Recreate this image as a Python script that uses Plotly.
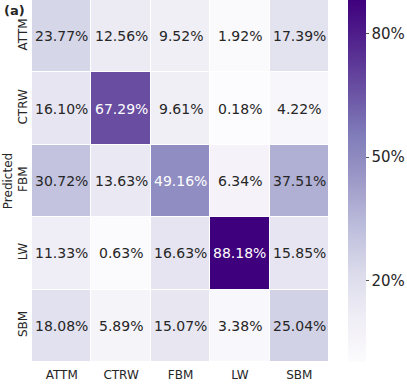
import plotly.graph_objects as go

CLASSES = ["ATTM", "CTRW", "FBM", "LW", "SBM"]
# rows = predicted class, columns = true class (percent)
ROW_ATTM = [23.77, 12.56, 9.52, 1.92, 17.39]
ROW_CTRW = [16.10, 67.29, 9.61, 0.18, 4.22]
ROW_FBM = [30.72, 13.63, 49.16, 6.34, 37.51]
ROW_LW = [11.33, 0.63, 16.63, 88.18, 15.85]
ROW_SBM = [18.08, 5.89, 15.07, 3.38, 25.04]
CB_TICKS = [20, 50, 80]

z = [ROW_ATTM, ROW_CTRW, ROW_FBM, ROW_LW, ROW_SBM]
FONT = "DejaVu Sans"

fig = go.Figure(go.Heatmap(
    z=z, x=CLASSES, y=CLASSES,
    colorscale="Purples",
    xgap=1, ygap=1,
    colorbar=dict(
        x=1.064, xanchor="left", xpad=0, ypad=0, y=0.5, len=1, thickness=18,
        outlinewidth=0, ticks="outside", ticklen=3, tickcolor="#555",
        tickvals=CB_TICKS, ticktext=[f"{t}%" for t in CB_TICKS],
        tickfont=dict(family=FONT, size=15, color="#262626"),
    ),
))

# cell labels, white on dark cells
annotations = []
for i, row in enumerate(z):
    for j, v in enumerate(row):
        annotations.append(dict(
            x=CLASSES[j], y=CLASSES[i], text=f"{v:.2f}%", showarrow=False,
            font=dict(family=FONT, size=14, color="white" if v > 45 else "#262626"),
        ))
annotations.append(dict(
    x=0.003, y=0.997, xref="paper", yref="paper", xanchor="left", yanchor="top",
    xshift=-31, text="<b>(a)</b>", showarrow=False,
    font=dict(family=FONT, size=13, color="#262626"),
))

fig.update_layout(
    width=407, height=392,
    margin=dict(l=32, r=78, t=0, b=30, autoexpand=False),
    plot_bgcolor="white", paper_bgcolor="white",
    font=dict(family=FONT, size=12, color="#262626"),
    annotations=annotations,
    xaxis=dict(showgrid=False, zeroline=False, ticks="", ticklabelstandoff=4,
               tickfont=dict(size=12)),
    yaxis=dict(
        autorange="reversed", showgrid=False, zeroline=False, ticks="",
        tickangle=-90, tickfont=dict(size=12), ticklabelstandoff=2,
        title=dict(text="Predicted", standoff=0, font=dict(size=12)),
    ),
)

fig.write_html("out.html", config={"displayModeBar": False},
               post_script="document.body.style.margin='0';")
